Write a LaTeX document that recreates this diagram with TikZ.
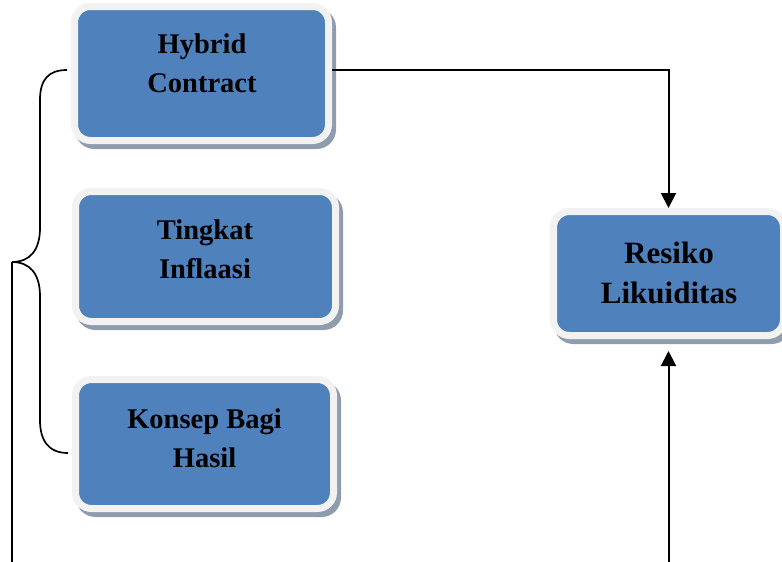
\documentclass[tikz,border=0pt]{standalone}
\usepackage{fontspec}
\setmainfont{Liberation Serif}
\usetikzlibrary{shadows,arrows.meta}
\definecolor{boxblue}{HTML}{4F81BD}
\definecolor{boxrim}{HTML}{F2F2F2}
\definecolor{shadowc}{HTML}{8F9CAD}
\tikzset{
  box/.style={draw=boxrim, line width=7pt, fill=boxblue, rounded corners=16pt,
    inner sep=0pt,
    general shadow={fill=shadowc, draw=shadowc, line width=7pt, shadow xshift=4pt, shadow yshift=-5pt}},
  boxtext/.style={align=center, font=\bfseries\fontsize{28.5}{39}\selectfont, text=black, inner sep=0pt},
  bigtext/.style={align=center, font=\bfseries\fontsize{31}{40}\selectfont, text=black, inner sep=0pt},
  arrowline/.style={line width=2pt, -{Triangle[length=15pt,width=15pt]}},
  braceline/.style={line width=1.7pt},
}
\begin{document}
\begin{tikzpicture}[x=1pt,y=-1pt]
\useasboundingbox (0,0) rectangle (782,562);
% boxes
\node[box, minimum width=254pt, minimum height=134pt] (hyb) at (201.5,73.5) {};
\node[box, minimum width=260pt, minimum height=130pt] (inf) at (205.5,256.5) {};
\node[box, minimum width=258pt, minimum height=129pt] (kbh) at (204.5,444) {};
\node[box, minimum width=230pt, minimum height=124pt] (rl) at (668.5,273.5) {};
% texts
\node[boxtext] (hybT) at (202,63.5) {Hybrid\\Contract};
\node[boxtext] (infT) at (205,249.5) {Tingkat\\Inflaasi};
\node[boxtext] (kbhT) at (204.5,438.5) {Konsep Bagi\\Hasil};
\node[bigtext] (rlT) at (669,273) {Resiko\\Likuiditas};
% connectors
\draw[arrowline] ([yshift=3.5pt]hyb.east) -| (rl.north);
\coordinate (rlbot) at (668.5,562);
\draw[arrowline, shorten >=12pt] (rlbot) -- (rl.south);
% brace
\coordinate (bt) at (12,262);
\coordinate (bl) at (12,562);
\draw[braceline] ([xshift=-4pt,yshift=3.5pt]hyb.west) .. controls (48,70) and (40,80) .. (40,100)
  -- (40,228) .. controls (40,250) and (30,262) .. (bt)
  .. controls (30,262) and (40,274) .. (40,296)
  -- (40,420) .. controls (40,440) and (48,453) .. ([xshift=-4pt,yshift=-9pt]kbh.west);
\draw[braceline] (bt) -- (bl);
\end{tikzpicture}
\end{document}
